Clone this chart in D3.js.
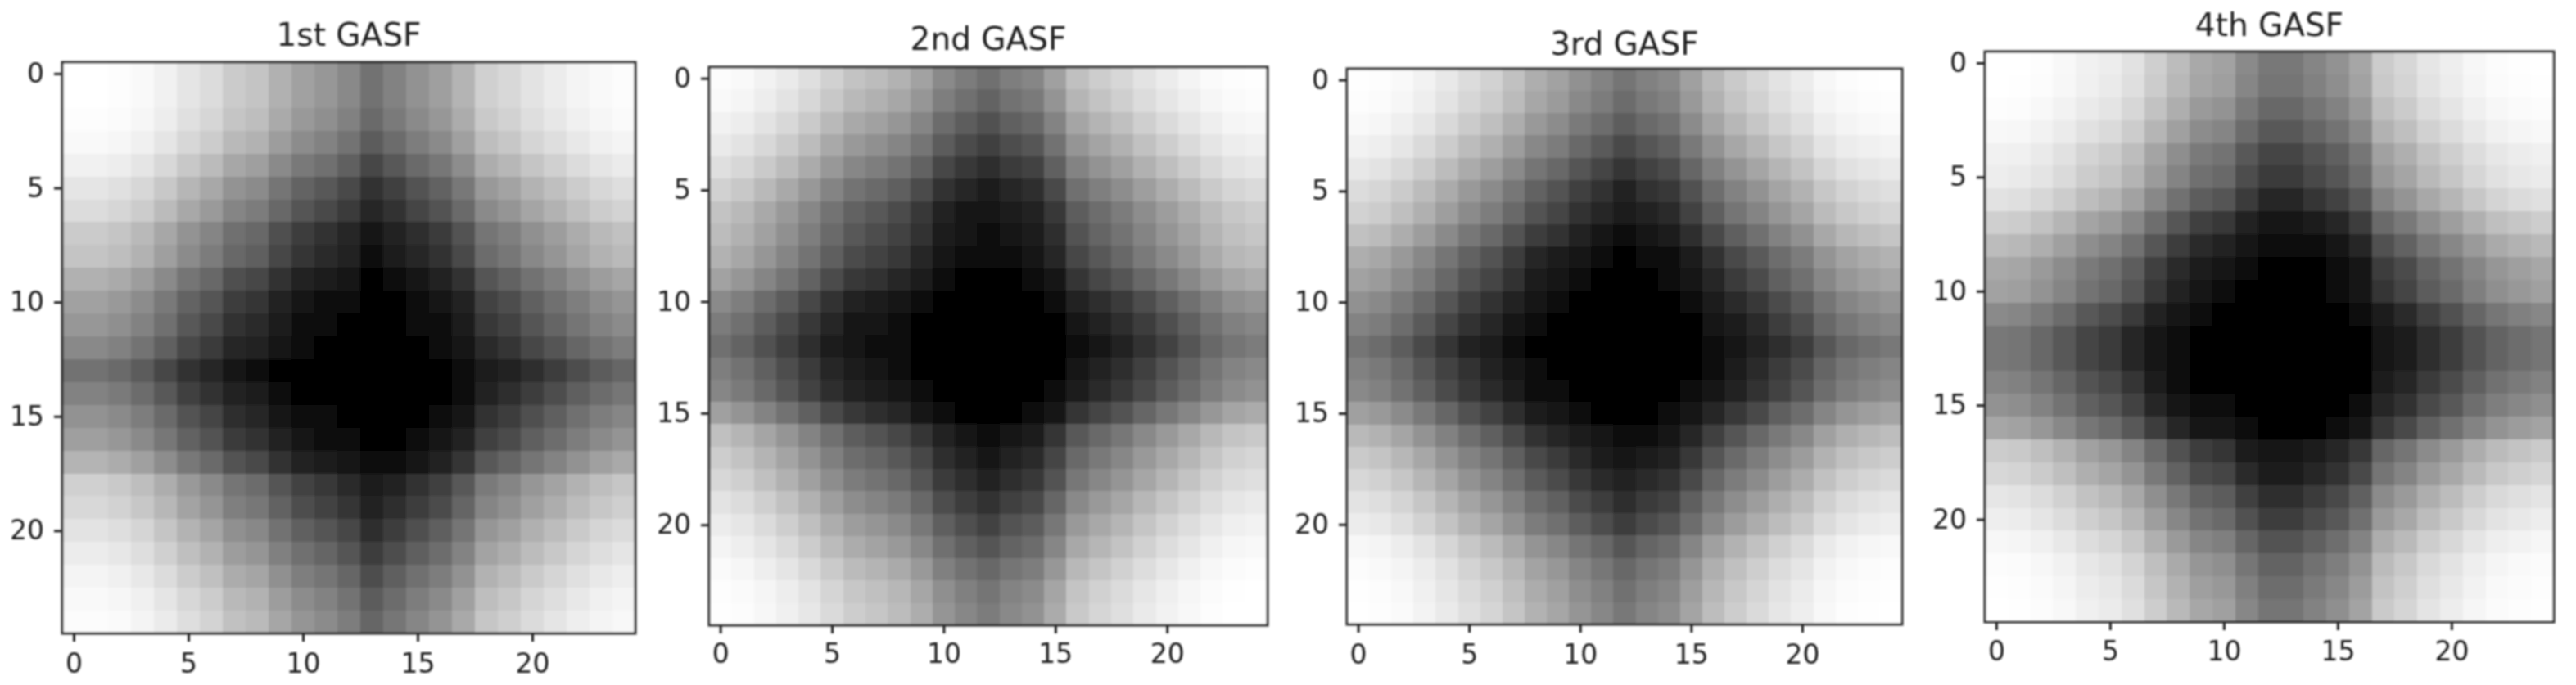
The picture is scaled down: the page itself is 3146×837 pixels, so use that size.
<!DOCTYPE html>
<html>
<head>
<meta charset="utf-8">
<script src="https://cdn.jsdelivr.net/npm/d3@7"></script>
<style>
html,body{margin:0;padding:0;background:#fff;}
svg{display:block;}
text{font-family:"DejaVu Sans",sans-serif;fill:#1c1c1c;}
</style>
</head>
<body>
<svg id="chart" width="3146" height="837"></svg>
<script>
// Normalised source series read back from each panel (row/column grey levels)
const series1 = [0.10,0.10,0.16,0.26,0.40,0.54,0.63,0.75,0.79,0.88,0.935,0.96,0.985,1.00,0.993,0.97,0.94,0.87,0.72,0.66,0.56,0.47,0.36,0.26,0.19];
const series2 = [0.11,0.20,0.33,0.45,0.57,0.69,0.78,0.82,0.865,0.925,0.98,0.996,1.00,0.994,0.985,0.93,0.80,0.72,0.64,0.53,0.42,0.31,0.18,0.07,0.02];
const series3 = [0.08,0.14,0.25,0.38,0.51,0.63,0.71,0.81,0.895,0.935,0.975,0.993,1.00,0.995,0.987,0.94,0.85,0.76,0.67,0.56,0.46,0.29,0.17,0.10,0.05];
const series4 = [0.05,0.08,0.17,0.28,0.41,0.48,0.60,0.75,0.855,0.925,0.945,0.99,1.00,1.00,0.995,0.98,0.935,0.77,0.69,0.56,0.46,0.32,0.20,0.13,0.07];
const titles = ["1st GASF","2nd GASF","3rd GASF","4th GASF"];
const tickValues = [0,5,10,15,20];
// Tone curve of the picture: share of the value range from the top, and the grey it shows
const toneStops = [0, 0.06, 0.2, 0.4, 1];
const toneGreys = [0, 6, 40, 100, 255];

// Layout of each axes box in the page
const boxes = [
  {l:76,  r:776,  t:76, b:774, titleY:56, pad:15},
  {l:866, r:1548, t:82, b:764, titleY:61, pad:13},
  {l:1645,r:2323, t:84, b:763, titleY:67, pad:15},
  {l:2424,r:3119, t:63, b:760, titleY:44, pad:14}
];
const allSeries = [series1,series2,series3,series4];

const svg = d3.select("#chart");
const defs = svg.append("defs");
defs.append("filter").attr("id","soft")
  .attr("filterUnits","userSpaceOnUse")
  .attr("x",0).attr("y",0).attr("width",3146).attr("height",837)
  .append("feGaussianBlur").attr("stdDeviation",0.9);

const root = svg.append("g").attr("filter","url(#soft)");

allSeries.forEach((s,k)=>{
  const box = boxes[k];
  const idx = d3.range(s.length);
  // Gramian angular summation field of the series
  const cells = idx.flatMap(i=>idx.map(j=>({
    i,j,
    v:s[i]*s[j]-Math.sqrt(1-s[i]*s[i])*Math.sqrt(1-s[j]*s[j])
  })));
  const x = d3.scaleLinear().domain([-0.5,s.length-0.5]).range([box.l,box.r]);
  const y = d3.scaleLinear().domain([-0.5,s.length-0.5]).range([box.t,box.b]);
  const ext = d3.extent(cells,d=>d.v);
  const grey = d3.scaleLinear()
    .domain(toneStops.map(f=>ext[1]-f*(ext[1]-ext[0])))
    .range(toneGreys);

  const g = root.append("g");
  g.append("g").selectAll("rect").data(cells).join("rect")
    .attr("x",d=>x(d.j-0.5))
    .attr("y",d=>y(d.i-0.5))
    .attr("width",d=>x(d.j+0.5)-x(d.j-0.5)+0.5)
    .attr("height",d=>y(d.i+0.5)-y(d.i-0.5)+0.5)
    .attr("shape-rendering","crispEdges")
    .attr("fill",d=>{const c=Math.round(grey(d.v));return d3.rgb(c,c,c).formatHex();});

  const ax = g.append("g").attr("transform",`translate(0,${box.b})`)
    .call(d3.axisBottom(x).tickValues(tickValues).tickSize(10).tickPadding(box.pad));
  const ay = g.append("g").attr("transform",`translate(${box.l},0)`)
    .call(d3.axisLeft(y).tickValues(tickValues).tickSize(10).tickPadding(12));
  [ax,ay].forEach(a=>{
    a.select(".domain").remove();
    a.selectAll("line").attr("stroke","#222").attr("stroke-width",3);
    a.selectAll("text").attr("font-size",33).attr("fill","#1c1c1c")
      .style("font-family",'"DejaVu Sans",sans-serif');
  });

  g.append("rect").attr("x",box.l).attr("y",box.t)
    .attr("width",box.r-box.l).attr("height",box.b-box.t)
    .attr("fill","none").attr("stroke","#2a2a2a").attr("stroke-width",3);

  g.append("text").attr("x",(box.l+box.r)/2).attr("y",box.titleY)
    .attr("text-anchor","middle").attr("font-size",39).text(titles[k]);
});
</script>
</body>
</html>
